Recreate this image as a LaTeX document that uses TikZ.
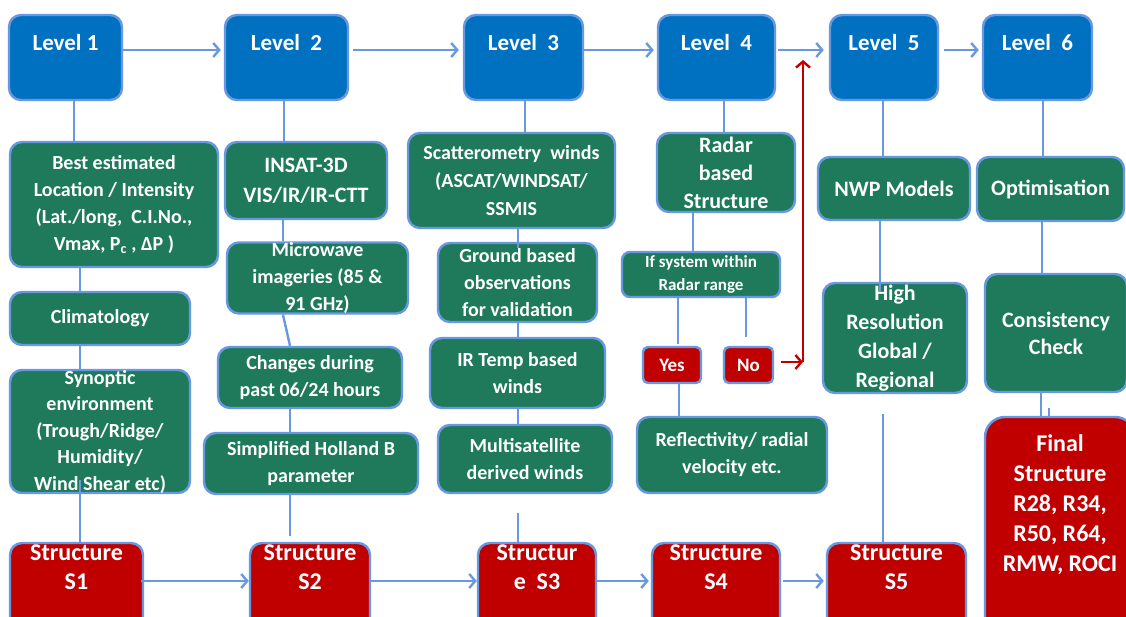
\documentclass[tikz,border=0pt]{standalone}
\usepackage{fontspec}
\setmainfont{Carlito}
\usetikzlibrary{arrows.meta}
\definecolor{lvlblue}{RGB}{0,112,192}
\definecolor{edgeblue}{RGB}{104,152,224}
\definecolor{boxgreen}{RGB}{30,122,90}
\definecolor{boxred}{RGB}{192,0,0}
\begin{document}
\begin{tikzpicture}[x=1pt,y=-1pt,
  base/.style={draw=edgeblue, line width=2.4pt, rounded corners=12pt, text=white, align=center, inner sep=0pt},
  sz/.style 2 args={minimum width=#1, minimum height=#2},
  lvl/.style={base, fill=lvlblue},
  gbox/.style={base, fill=boxgreen, font=\fontsize{20}{27}\selectfont\bfseries},
  gbig/.style={gbox, font=\fontsize{22}{28}\selectfont\bfseries},
  rbox/.style={base, fill=boxred},
  txt/.style={text=white, align=center, inner sep=0pt, anchor=north},
  lvltxt/.style={txt, font=\fontsize{23}{28}\selectfont\bfseries},
  strtxt/.style={txt, font=\fontsize{24}{29}\selectfont\bfseries},
  conn/.style={draw=edgeblue, line width=2.4pt},
  arr/.style={conn, -{Straight Barb[length=6pt,width=14pt]}},
  redarr/.style={draw=boxred, line width=2.4pt, -{Straight Barb[length=6pt,width=14pt]}}
]
\clip (0,0) rectangle (1126,617);
\fill[white] (0,0) rectangle (1126,617);

% ---- Level row ----
\node[lvl, sz={113}{85}] (l1) at (65.5,57.5) {};
\node[lvl, sz={123}{85}] (l2) at (286.5,57.5) {};
\node[lvl, sz={119}{85}] (l3) at (523.5,57.5) {};
\node[lvl, sz={117}{85}] (l4) at (716.5,57.5) {};
\node[lvl, sz={108}{85}] (l5) at (884,57.5) {};
\node[lvl, sz={109}{85}] (l6) at (1037.5,57.5) {};
\node[lvltxt] (l1t) at ([yshift=-20pt]l1.north) {Level 1};
\node[lvltxt] (l2t) at ([yshift=-20pt]l2.north) {Level\ \ 2};
\node[lvltxt] (l3t) at ([yshift=-20pt]l3.north) {Level\ \ 3};
\node[lvltxt] (l4t) at ([yshift=-20pt]l4.north) {Level\ \ 4};
\node[lvltxt] (l5t) at ([yshift=-20pt]l5.north) {Level\ \ 5};
\node[lvltxt] (l6t) at ([yshift=-20pt]l6.north) {Level\ \ 6};

% ---- Column 1 ----
\node[gbox, sz={208}{125}] (best) at (114,204.5) {Best estimated\\Location / Intensity\\(Lat./long,\ \ C.I.No.,\\Vmax, P\textsubscript{c} , ΔP )};
\node[gbox, sz={180}{53}] (clim) at (100,318.5) {Climatology};
\node[gbox, sz={180}{123}, font=\fontsize{20}{26.5}\selectfont\bfseries] (syn) at (100,431.5) {Synoptic\\environment\\(Trough/Ridge/\\Humidity/\\Wind Shear etc)};

% ---- Column 2 ----
\node[gbig, sz={162}{77}, font=\fontsize{22}{30}\selectfont\bfseries] (insat) at (306,180.5) {INSAT-3D\\VIS/IR/IR-CTT};
\node[gbox, sz={181}{70}] (micro) at (317.5,278) {Microwave\\imageries (85 \&\\91 GHz)};
\node[gbox, sz={184}{61}] (chg) at (310,377.5) {Changes during\\past 06/24 hours};
\node[gbox, sz={214}{61}] (simp) at (311,463.5) {Simplified Holland B\\parameter};

% ---- Column 3 ----
\node[gbox, sz={207}{95}, font=\fontsize{20}{28}\selectfont\bfseries] (scat) at (511.5,180.5) {Scatterometry\ \ winds\\(ASCAT/WINDSAT/\\SSMIS};
\node[gbox, sz={159}{79}] (ground) at (517.5,282.5) {Ground based\\observations\\for validation};
\node[gbox, sz={175}{70}] (irt) at (517.5,373) {IR Temp based\\winds};
\node[gbox, sz={174}{68}] (multi) at (525,459) {Multisatellite\\derived winds};

% ---- Column 4 ----
\node[gbig, sz={138}{79}] (radar) at (726,172.5) {Radar\\based\\Structure};
\node[gbox, sz={158}{45}, rounded corners=8pt, font=\fontsize{17}{23}\selectfont\bfseries] (ifsys) at (701,274.5) {If system within\\Radar range};
\node[rbox, sz={58}{36}, rounded corners=5pt, font=\fontsize{19}{23}\selectfont\bfseries] (yes) at (672,365) {Yes};
\node[rbox, sz={49}{36}, rounded corners=5pt, font=\fontsize{19}{23}\selectfont\bfseries] (no) at (748.5,365) {No};
\node[gbox, sz={190}{76}] (refl) at (732,455) {Reflectivity/ radial\\velocity etc.};

% ---- Column 5 ----
\node[gbig, sz={152}{63}] (nwp) at (894,188.5) {NWP Models};
\node[gbig, sz={144}{110}, font=\fontsize{22}{29}\selectfont\bfseries] (high) at (895,338) {High\\Resolution\\Global /\\Regional};

% ---- Column 6 ----
\node[gbig, sz={147}{64}] (opt) at (1050.5,189) {Optimisation};
\node[gbig, sz={142}{118}, font=\fontsize{22}{27}\selectfont\bfseries] (cons) at (1056,333) {Consistency\\Check};
\node[rbox, sz={150}{230}, rounded corners=20pt] (final) at (1060,532) {};
\node[strtxt, font=\fontsize{24}{30}\selectfont\bfseries] (finalt) at ([yshift=-19pt]final.north) {Final\\Structure\\R28, R34,\\R50, R64,\\RMW, ROCI};

% ---- Structure row ----
\node[rbox, sz={133}{120}] (s1) at (76.5,603) {};
\node[rbox, sz={120}{120}] (s2) at (310,603) {};
\node[rbox, sz={118}{120}] (s3) at (537,603) {};
\node[rbox, sz={128}{120}] (s4) at (716,603) {};
\node[rbox, sz={139}{120}] (s5) at (896.5,603) {};
\node[strtxt] (s1t) at ([yshift=-3pt]s1.north) {Structure\\S1};
\node[strtxt] (s2t) at ([yshift=-3pt]s2.north) {Structure\\S2};
\node[strtxt] (s3t) at ([yshift=-3pt]s3.north) {Structur\\e\ \ S3};
\node[strtxt] (s4t) at ([yshift=-3pt]s4.north) {Structure\\S4};
\node[strtxt] (s5t) at ([yshift=-3pt]s5.north) {Structure\\S5};

% ---- Level arrows ----
\draw[arr] ([yshift=7.5pt]l1.east) -- ([yshift=7.5pt,xshift=-3pt]l2.west);
\draw[arr] ([yshift=7.5pt,xshift=4pt]l2.east) -- ([yshift=7.5pt,xshift=-4pt]l3.west);
\draw[arr] ([yshift=7.5pt]l3.east) -- ([yshift=7.5pt,xshift=-3pt]l4.west);
\draw[arr] ([yshift=7.5pt,xshift=2pt]l4.east) -- ([yshift=7.5pt,xshift=-5pt]l5.west);
\draw[arr] ([yshift=7.5pt,xshift=5pt]l5.east) -- ([yshift=7.5pt,xshift=-3pt]l6.west);

% ---- Structure arrows ----
\draw[arr] ([yshift=22pt,xshift=-3pt]s1.east) -- ([yshift=22pt]s2.west);
\draw[arr] ([yshift=22pt]s2.east) -- ([yshift=22pt]s3.west);
\draw[arr] ([yshift=22pt]s3.east) -- ([yshift=22pt,xshift=-2pt]s4.west);
\draw[arr] ([yshift=22pt,xshift=2pt]s4.east) -- ([yshift=22pt,xshift=-2pt]s5.west);

% ---- Column 1 connectors ----
\draw[conn] ([xshift=8.5pt]l1.south) -- ([xshift=-40pt]best.north);
\draw[conn] ([xshift=-34pt]best.south) -- ([xshift=-20pt]clim.north);
\draw[conn] ([xshift=-20pt]clim.south) -- ([xshift=-20pt]syn.north);
\draw[conn] ([xshift=-20pt,yshift=14pt]syn.south) -- ([xshift=3.5pt]s1.north);

% ---- Column 2 connectors ----
\draw[conn] ([xshift=-2.5pt]l2.south) -- ([xshift=-22pt]insat.north);
\draw[conn] ([xshift=-23pt]insat.south) -- ([xshift=-34.5pt]micro.north);
\draw[conn] ([xshift=-34.5pt]micro.south) -- ([xshift=-20pt]chg.north);
\draw[conn] ([xshift=-20pt]chg.south) -- ([xshift=-21pt]simp.north);
\draw[conn] ([xshift=-21pt]simp.south) -- ([xshift=-20pt,yshift=6pt]s2.north);

% ---- Column 3 connectors ----
\draw[conn] ([xshift=1.5pt]l3.south) -- ([xshift=13.5pt]scat.north);
\draw[conn] ([xshift=6.5pt]scat.south) -- ([xshift=0.5pt,yshift=-6pt]ground.north);
\draw[conn] ([xshift=0.5pt]ground.south) -- ([xshift=0.5pt]irt.north);
\draw[conn] ([xshift=0.5pt]irt.south) -- ([xshift=-7pt]multi.north);
\draw[conn] ([xshift=-7pt,yshift=-19pt]multi.south) -- ([xshift=-19pt]s3.north);

% ---- Column 4 connectors ----
\draw[conn] ([xshift=7.5pt]l4.south) -- ([xshift=-2pt]radar.north);
\draw[conn] ([xshift=-33pt]radar.south) -- ([xshift=-8pt]ifsys.north);
\draw[conn] ([xshift=-23pt]ifsys.south) -- ([xshift=6pt,yshift=2pt]yes.north);
\draw[conn] ([xshift=45pt]ifsys.south) -- ([xshift=-2.5pt,yshift=9pt]no.north);
\draw[conn] ([xshift=7pt]yes.south) -- ([xshift=-53pt]refl.north);
\coordinate (bend) at (803,362);
\draw[redarr] ([xshift=7pt,yshift=3pt]no.east) -- (bend);
\draw[redarr] (bend) -- (803,60);

% ---- Column 5 connectors ----
\draw[conn] ([xshift=-1pt]l5.south) -- ([xshift=-11pt]nwp.north);
\draw[conn] ([xshift=-14pt]nwp.south) -- ([xshift=-15pt,yshift=-10pt]high.north);
\draw[conn] ([xshift=-12pt,yshift=-20pt]high.south) -- ([xshift=-13.5pt]s5.north);

% ---- Column 6 connectors ----
\draw[conn] ([xshift=5.5pt]l6.south) -- ([xshift=-7.5pt]opt.north);
\draw[conn] ([xshift=-8.5pt]opt.south) -- ([xshift=-14pt]cons.north);
\draw[conn] ([xshift=-15pt]cons.south) -- ([xshift=-19pt]final.north);
\coordinate (stub) at (1049,408);
\draw[conn] ([xshift=-11pt]final.north) -- (stub);
\end{tikzpicture}
\end{document}
